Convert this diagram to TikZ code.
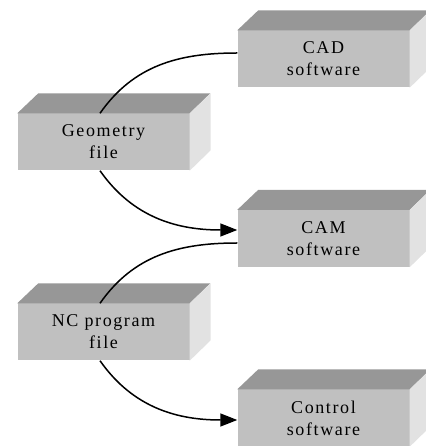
\documentclass[tikz,border=0pt]{standalone}
\usepackage{fontspec}
\newfontfamily\boxfont[LetterSpace=9]{Liberation Serif}
\usetikzlibrary{arrows.meta,calc}
\definecolor{frontgrey}{HTML}{C0C0C0}
\definecolor{topgrey}{HTML}{979797}
\definecolor{sidegrey}{HTML}{E2E2E2}

\begin{document}
\begin{tikzpicture}[
  x=1pt, y=1pt,
  block/.style={fill=frontgrey, minimum width=172pt, minimum height=57pt, inner sep=0pt, align=center, font=\boxfont\fontsize{18}{22}\selectfont},
  topface/.style={fill=topgrey},
  sideface/.style={fill=sidegrey},
  arr/.style={-{Triangle[length=17pt,width=13pt]}, line width=1.5pt},
  link/.style={line width=1.5pt}
]
\useasboundingbox (0,0) rectangle (425,446);
\node[block] (cad) at (323.5,387) {CAD\\software};
\node[block] (geo) at (103.5,304) {Geometry\\file};
\node[block] (cam) at (323.5,207.5) {CAM\\software};
\node[block] (nc) at (103.5,114) {NC program\\file};
\node[block] (ctrl) at (323.5,28) {Control\\software};

\foreach \n in {cad,geo,cam,nc,ctrl}{
  \fill[topface] (\n.north west) -- ++(21,20) -- ++(172,0) -- (\n.north east) -- cycle;
  \fill[sideface] (\n.north east) -- ++(21,20) -- ++(0,-57) -- (\n.south east) -- cycle;
}

\draw[link] ($(cad.west)+(0,6)$) to[out=180,in=55] ($(geo.north)+(-3.5,0)$);
\draw[arr] ($(geo.south)+(-3.5,0)$) to[out=-55,in=180] ($(cam.west)+(0,8.5)$);
\draw[link] ($(cam.west)+(0,-4.5)$) to[out=180,in=55] ($(nc.north)+(-3.5,0)$);
\draw[arr] ($(nc.south)+(-3.5,0)$) to[out=-55,in=180] ($(ctrl.west)+(0,-2)$);
\end{tikzpicture}
\end{document}
